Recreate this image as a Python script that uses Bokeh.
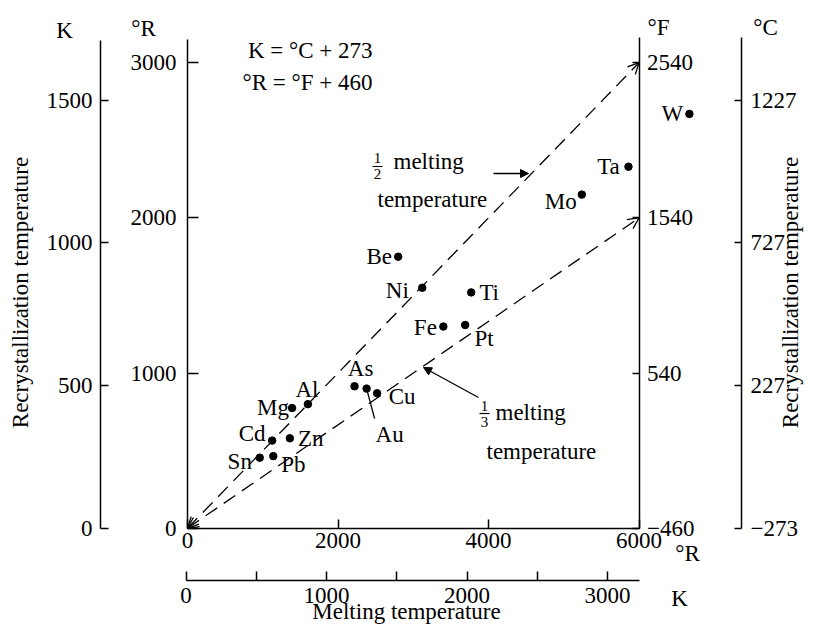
from math import pi
from bokeh.plotting import figure
from bokeh.models import LinearAxis, Range1d, FixedTicker, Arrow, OpenHead, NormalHead, ColumnDataSource
from bokeh.core.properties import value
from bokeh.embed import file_html
from bokeh.resources import INLINE

# ---------------- data ----------------
metals = ["W", "Ta", "Mo", "Be", "Ni", "Ti", "Fe", "Pt", "As", "Au", "Cu",
          "Al", "Mg", "Zn", "Cd", "Sn", "Pb"]
melt_R = [6670, 5860, 5240, 2800, 3120, 3770, 3400, 3690, 2220, 2380, 2520,
          1600, 1390, 1360, 1125, 960, 1140]
recryst_R = [2670, 2330, 2150, 1750, 1550, 1520, 1300, 1310, 915, 900, 870,
             800, 775, 580, 565, 455, 465]

fractions = [1 / 2, 1 / 3]
fraction_num = ["1", "1"]
fraction_den = ["2", "3"]
line_end_R = 6000

ticks_Rx = [0, 2000, 4000, 6000]
labels_Rx = ["0", "2000", "4000", "6000"]
ticks_Kx = [0, 1000, 2000, 3000]
minor_Kx = [500, 1500, 2500]
labels_Kx = ["0", "1000", "2000", "3000"]
ticks_Ky = [0, 500, 1000, 1500]
labels_Ky = ["0", "500", "1000", "1500"]
ticks_Ry = [0, 1000, 2000, 3000]
labels_Ry = ["0", "1000", "2000", "3000"]
ticks_F = [-460, 540, 1540, 2540]
labels_F = ["\u2212460", "540", "1540", "2540"]
ticks_C = [-273, 227, 727, 1227]
labels_C = ["\u2212273", "227", "727", "1227"]

# label placement (screen px offsets of each metal name from its dot)
label_dx = [-17, -20, -21, -19, -25, 18, -18, 19, 6, 23, 25, -1, -19, 21, -20, -20, 20]
label_dy = [0, 0, 7, 0, 3, 0, 1, 14, -18, 46, 3, -15, -1, 0, -7, 4, 8]

# ---------------- layout ----------------
W, H = 804, 626
X0, SX = 187, 0.07525      # deg R along x
Y0, SY = 527.8, 0.1552     # deg R along y
XK0, SXK = 185.5, 0.1405   # K along x
YK0, SYK = 527.8, 0.2854   # K along y
FONT = "Liberation Serif"


def xr(px):
    return (px - X0) / SX


def yr(py):
    return (Y0 - py) / SY


def xk(px):
    return (px - XK0) / SXK


def yk(py):
    return (YK0 - py) / SYK


p = figure(width=W, height=H, output_backend="svg", toolbar_location=None,
           x_axis_type=None, y_axis_type=None, min_border=0,
           x_range=Range1d(xr(0), xr(W)), y_range=Range1d(yr(H), yr(0)))
p.extra_x_ranges = {"Kx": Range1d(xk(0), xk(W))}
p.extra_y_ranges = {
    "Ky": Range1d(yk(H), yk(0)),
    "F": Range1d(yr(H) - 460, yr(0) - 460),
    "C": Range1d(yk(H) - 273, yk(0) - 273),
}
p.outline_line_color = None
p.background_fill_color = "white"
p.border_fill_color = "white"


def make_axis(ticks, labels, minor=None, **kw):
    ax = LinearAxis(ticker=FixedTicker(ticks=ticks, minor_ticks=minor or []),
                    major_label_overrides={t: l for t, l in zip(ticks, labels)}, **kw)
    ax.axis_line_color = "black"
    ax.axis_line_width = 1.5
    ax.major_tick_line_color = "black"
    ax.major_tick_line_width = 1.5
    ax.minor_tick_line_color = "black"
    ax.minor_tick_line_width = 1.5
    ax.major_tick_out = 0
    ax.minor_tick_out = 0
    ax.major_label_text_font = FONT
    ax.major_label_text_font_size = "23px"
    ax.major_label_text_color = "black"
    return ax


p.add_layout(make_axis(ticks_Ky, labels_Ky, y_range_name="Ky", fixed_location=xr(100),
                       bounds=(0, yk(40)), major_tick_in=8, major_label_standoff=8), "left")
p.add_layout(make_axis(ticks_Ry, labels_Ry, fixed_location=0,
                       bounds=(0, yr(39)), major_tick_in=11, major_label_standoff=11), "left")
p.add_layout(make_axis(ticks_F, labels_F, y_range_name="F", fixed_location=line_end_R,
                       bounds=(-460, yr(37) - 460), major_tick_in=7, major_label_standoff=8), "right")
p.add_layout(make_axis(ticks_C, labels_C, y_range_name="C", fixed_location=xr(741),
                       bounds=(-273, yk(37) - 273), major_tick_in=7, major_label_standoff=9), "right")
p.add_layout(make_axis(ticks_Rx, labels_Rx, fixed_location=0,
                       bounds=(0, line_end_R), major_tick_in=9, major_label_standoff=5), "below")
p.add_layout(make_axis(ticks_Kx, labels_Kx, minor=minor_Kx, x_range_name="Kx",
                       fixed_location=yr(580), bounds=(0, xk(639)),
                       major_tick_in=9, minor_tick_in=9, major_label_standoff=7), "below")

# dashed fraction-of-melting lines
src = ColumnDataSource(dict(x0=[0, 0], y0=[0, 0],
                            x1=[line_end_R] * len(fractions),
                            y1=[f * line_end_R for f in fractions]))
p.add_layout(Arrow(source=src, x_start="x0", y_start="y0", x_end="x1", y_end="y1",
                   line_dash="14 8", line_width=1.3, line_color="black",
                   start=OpenHead(size=11, line_width=1.3, line_color="black"),
                   end=OpenHead(size=11, line_width=1.3, line_color="black")))

# points and their names
p.scatter(melt_R, recryst_R, size=7.5, color="black")
p.text(x=melt_R, y=recryst_R, text=metals, x_offset=label_dx, y_offset=label_dy,
       text_font=value(FONT), text_font_size="23px", text_align="center",
       text_baseline="middle", text_color="black")

au = metals.index("Au")
p.segment(x0=[melt_R[au]], y0=[recryst_R[au]], x1=[melt_R[au] + 8 / SX],
          y1=[recryst_R[au] - 30 / SY], line_width=1.3, line_color="black")


def txt(px, py, s, align="center", size=23, angle=0.0):
    p.text(x=[xr(px)], y=[yr(py)], text=[s], text_font=value(FONT),
           text_font_size=f"{size}px", text_align=align, text_baseline="middle",
           angle=angle, text_color="black")


# unit labels
txt(64, 30, "K")
txt(143, 28, "°R")
txt(658, 27, "°F")
txt(765, 27, "°C")
txt(687, 553, "°R")
txt(679, 598, "K")

# conversion formulas
txt(372, 50, "K = °C + 273", align="right")
txt(372, 82, "°R = °F + 460", align="right")

# axis titles
txt(20, 292, "Recrystallization temperature", angle=pi / 2)
txt(790, 292, "Recrystallization temperature", angle=pi / 2)
txt(406, 611, "Melting temperature")

# fraction labels
frac_pos = [(377, 157, 173, 166, 393, 161, 377, 199), (484, 405, 421, 413, 495, 412, 486, 451)]
for (fx, ny, dy_, by, mx, my, tx, ty), num, den in zip(frac_pos, fraction_num, fraction_den):
    txt(fx, ny, num, size=15)
    txt(fx, dy_, den, size=15)
    p.segment(x0=[xr(fx - 5)], y0=[yr(by)], x1=[xr(fx + 5)], y1=[yr(by)],
              line_width=1.2, line_color="black")
    txt(mx, my, "melting", align="left")
    txt(tx, ty, "temperature", align="left")

p.add_layout(Arrow(x_start=xr(493), y_start=yr(173), x_end=xr(528), y_end=yr(173),
                   line_width=1.3, line_color="black",
                   end=NormalHead(size=8, fill_color="black", line_color="black")))
p.add_layout(Arrow(x_start=xr(478), y_start=yr(397), x_end=xr(423), y_end=yr(367),
                   line_width=1.3, line_color="black",
                   end=NormalHead(size=8, fill_color="black", line_color="black")))

open("out.html", "w").write(file_html(p, INLINE))
